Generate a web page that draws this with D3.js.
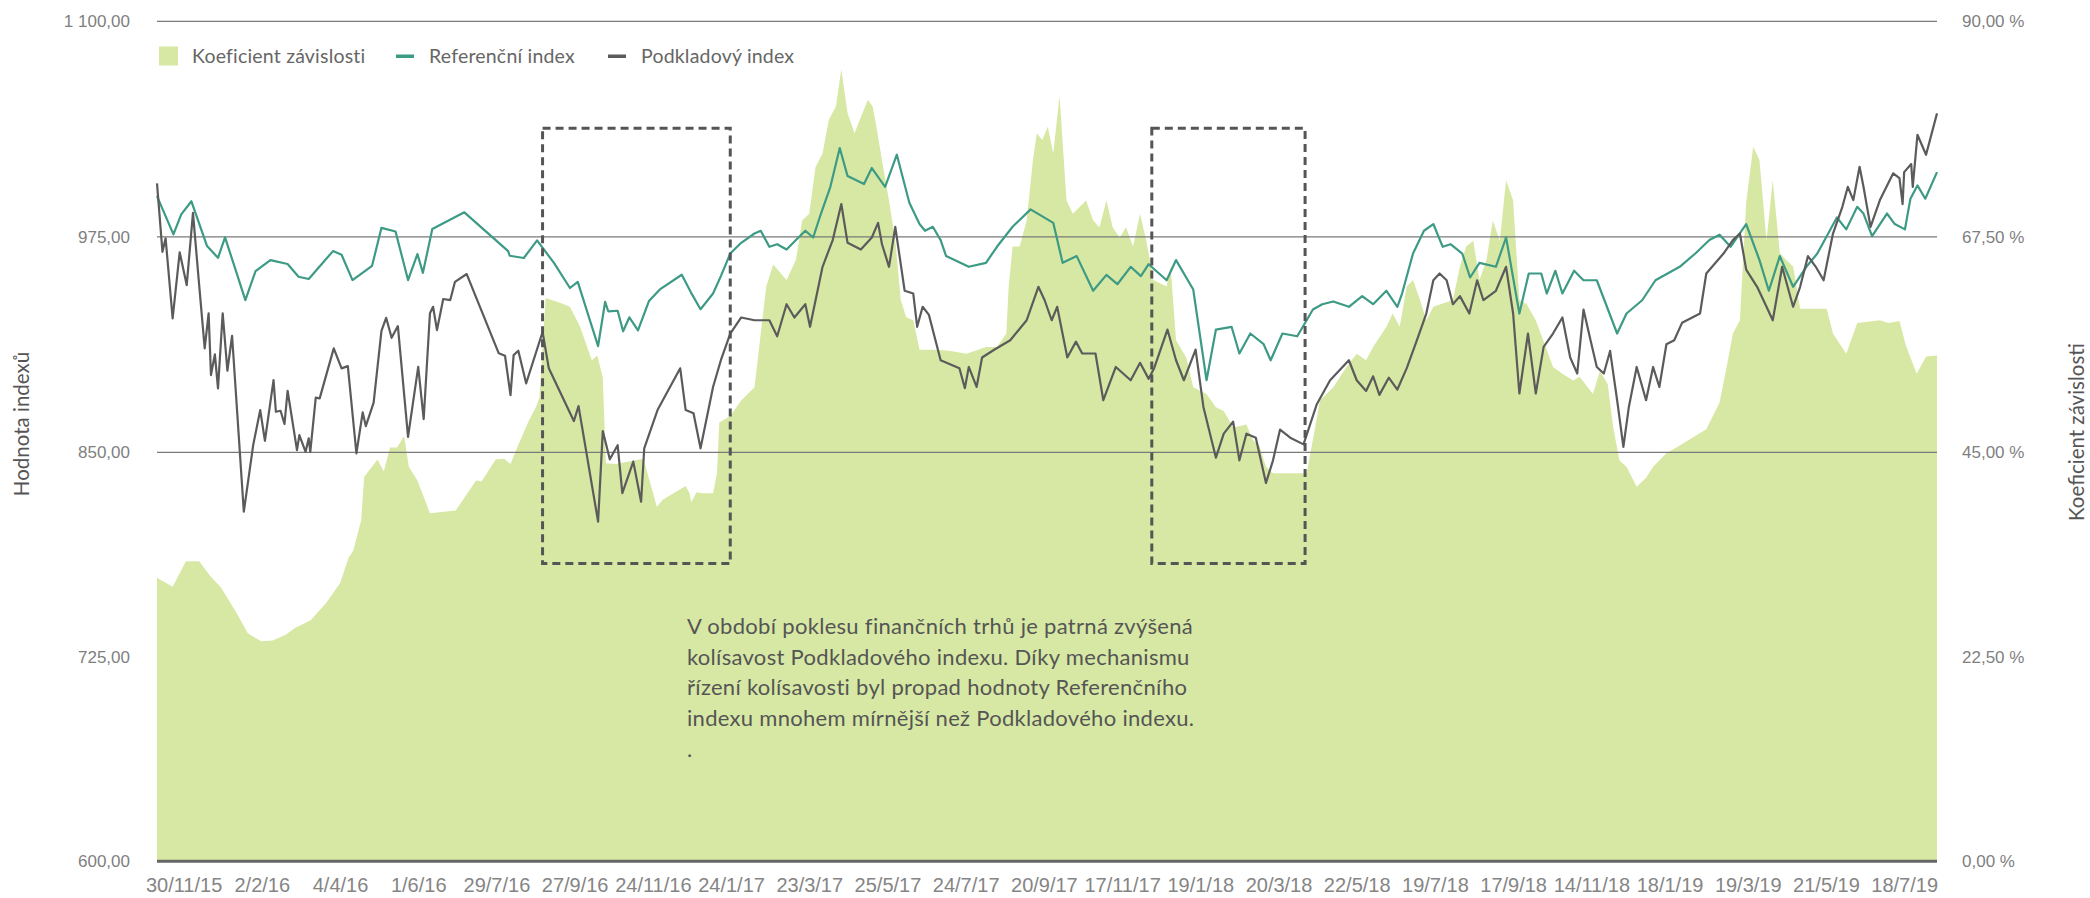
<!DOCTYPE html>
<html lang="cs">
<head>
<meta charset="utf-8">
<script src="https://cdn.jsdelivr.net/npm/d3@7"></script>
<style>
  html, body { margin: 0; padding: 0; background: #fff; }
  svg { display: block; font-family: "Lato", "Open Sans", sans-serif; }
  .axis text { fill: #7f7f7f; font-size: 17px; }
  .axis.x-axis text { font-size: 20px; fill: #858585; }
  .axis .domain { display: none; }
</style>
</head>
<body>
<svg id="chart" width="2090" height="898"></svg>
<script>
// x positions are measured in label slots: 0 = 30/11/15, 1 = 2/2/16, ... 22 = 18/7/19
const dateLabels = ["30/11/15", "2/2/16", "4/4/16", "1/6/16", "29/7/16", "27/9/16", "24/11/16",
  "24/1/17", "23/3/17", "25/5/17", "24/7/17", "20/9/17", "17/11/17", "19/1/18", "20/3/18",
  "22/5/18", "19/7/18", "17/9/18", "14/11/18", "18/1/19", "19/3/19", "21/5/19", "18/7/19"];

const indexTicks = [600, 725, 850, 975, 1100];
const coefTicks = [0, 22.5, 45, 67.5, 90];
const indexGrid = [850, 975, 1100];

// Koeficient závislosti (%)
const coefficient = [
  [-0.34,31.2],[-0.14,30.2],[0.03,33.0],[0.2,33.0],[0.34,31.4],[0.48,30.1],[0.68,27.3],[0.82,25.1],
  [0.99,24.2],[1.14,24.3],[1.3,24.9],[1.43,25.7],[1.62,26.5],[1.82,28.4],[2.0,30.6],[2.11,33.4],
  [2.17,34.2],[2.27,37.5],[2.31,42.3],[2.48,44.2],[2.56,42.9],[2.64,45.5],[2.73,45.5],[2.82,46.7],
  [2.88,43.4],[2.99,41.9],[3.15,38.3],[3.48,38.6],[3.74,41.9],[3.81,41.8],[3.99,44.2],[4.1,44.3],
  [4.18,43.7],[4.28,45.8],[4.42,48.4],[4.51,49.8],[4.55,50.7],[4.63,61.1],[4.82,60.6],[4.94,60.2],
  [5.07,58.1],[5.22,54.6],[5.29,55.1],[5.36,52.8],[5.4,43.8],[5.53,43.7],[5.64,43.9],[5.88,44.3],
  [6.02,40.0],[6.05,39.0],[6.13,39.8],[6.42,41.3],[6.47,40.5],[6.49,39.5],[6.56,40.6],[6.63,40.5],
  [6.77,40.5],[6.82,42.7],[6.85,48.1],[6.99,48.8],[7.13,50.4],[7.3,51.8],[7.37,56.7],[7.45,62.3],
  [7.54,64.6],[7.71,63.0],[7.83,65.1],[7.91,69.2],[8.0,69.9],[8.08,74.8],[8.17,76.2],[8.25,79.7],
  [8.34,81.1],[8.41,85.0],[8.49,80.4],[8.58,78.3],[8.66,80.0],[8.75,81.8],[8.81,81.1],[8.85,79.4],
  [8.93,75.5],[9.02,71.3],[9.1,67.1],[9.17,60.9],[9.24,59.1],[9.33,58.8],[9.41,55.7],[9.58,55.7],
  [9.79,55.6],[10.01,55.3],[10.26,56.0],[10.4,56.0],[10.52,57.4],[10.55,62.3],[10.6,66.5],[10.69,66.5],
  [10.78,69.2],[10.86,75.5],[10.91,78.3],[10.98,77.6],[11.05,79.0],[11.12,76.2],[11.2,82.2],[11.29,71.3],
  [11.37,69.9],[11.54,71.3],[11.63,69.2],[11.71,68.5],[11.8,71.3],[11.88,68.5],[11.97,67.4],[12.05,68.5],
  [12.14,66.5],[12.23,69.9],[12.31,67.1],[12.4,63.0],[12.57,62.3],[12.62,64.4],[12.69,56.7],[12.82,54.9],
  [12.91,51.8],[13.08,51.1],[13.2,49.7],[13.3,49.3],[13.42,47.6],[13.59,47.9],[13.67,46.3],[13.76,45.6],
  [13.84,43.4],[13.93,42.7],[14.36,42.7],[14.44,46.3],[14.53,50.4],[14.7,51.8],[14.87,53.9],[15.0,55.3],
  [15.12,54.6],[15.21,56.0],[15.38,58.1],[15.46,59.5],[15.55,58.1],[15.64,62.3],[15.72,63.0],[15.81,60.9],
  [15.89,58.8],[15.98,60.2],[16.23,60.9],[16.32,64.4],[16.4,66.5],[16.49,67.1],[16.57,63.0],[16.66,65.1],
  [16.74,69.2],[16.83,67.1],[16.91,73.4],[17.0,71.3],[17.08,60.9],[17.17,60.5],[17.29,58.8],[17.43,55.7],
  [17.51,53.9],[17.63,53.2],[17.77,52.5],[17.85,52.9],[18.02,51.1],[18.11,53.5],[18.21,52.1],[18.28,47.6],
  [18.36,44.1],[18.45,43.4],[18.58,41.2],[18.7,42.2],[18.79,43.4],[18.96,44.9],[19.13,45.7],[19.47,47.4],
  [19.64,50.2],[19.73,53.9],[19.81,57.4],[19.9,58.8],[19.98,71.1],[20.07,76.9],[20.15,75.5],[20.24,67.1],
  [20.32,73.4],[20.41,65.8],[20.49,65.1],[20.58,64.4],[20.67,60.0],[21.01,60.0],[21.09,57.4],[21.26,55.3],
  [21.4,58.5],[21.69,58.8],[21.8,58.5],[21.94,58.7],[22.02,56.2],[22.16,53.2],[22.28,55.0],[22.42,55.1]
];

// Referenční index
const referenceIndex = [
  [-0.34,998.6],[-0.13,976.4],[-0.03,988],[0.1,995.6],[0.3,969.6],[0.44,962.8],[0.53,974.7],[0.79,938.3],
  [0.92,955.1],[1.11,961.5],[1.33,959.2],[1.47,951.8],[1.6,950.5],[1.91,966.7],[2.02,964.6],[2.16,949.9],
  [2.41,958.2],[2.53,980.2],[2.71,978.1],[2.87,949.9],[2.99,965],[3.06,954.1],[3.18,979.5],[3.59,989.2],
  [4.15,966.7],[4.17,964],[4.35,962.7],[4.52,972.9],[4.74,959.6],[4.94,945.3],[5.04,948.9],[5.3,911.6],
  [5.39,937.3],[5.43,931.8],[5.55,932.1],[5.62,920.2],[5.7,928.3],[5.81,920.7],[5.95,937.7],[6.09,944.5],
  [6.37,953],[6.49,942.5],[6.61,933],[6.77,942.1],[6.87,952.2],[6.99,965.3],[7.13,971.5],[7.3,976.9],
  [7.38,978.5],[7.49,969.2],[7.59,970.7],[7.71,967.6],[7.83,973.1],[7.95,978.5],[8.05,974.6],[8.15,988.5],
  [8.27,1004],[8.39,1026.5],[8.49,1010.2],[8.7,1005.6],[8.8,1014.9],[8.97,1004],[9.12,1022.6],[9.28,994.7],
  [9.41,982.4],[9.48,978.5],[9.58,980.8],[9.68,973.1],[9.75,963.8],[10.04,957.6],[10.26,959.9],[10.4,969.2],
  [10.6,980.8],[10.83,990.9],[11.12,983.1],[11.24,959.9],[11.42,963.8],[11.63,943.7],[11.8,952.9],[11.94,947.5],
  [12.11,957.6],[12.24,952.2],[12.34,959.1],[12.57,949.8],[12.69,961.5],[12.91,944.4],[13.08,891.8],[13.2,921.2],
  [13.4,922.8],[13.5,907.3],[13.64,918.9],[13.81,912.7],[13.9,903.4],[14.05,918.9],[14.24,917.3],[14.44,932.8],
  [14.56,935.9],[14.7,937.5],[14.9,934.4],[15.07,940.6],[15.21,935.9],[15.38,943.7],[15.52,934.4],[15.58,942.1],
  [15.72,965.3],[15.86,978.5],[15.98,982.4],[16.1,969.2],[16.2,970.7],[16.35,965.3],[16.45,951.4],[16.57,959.9],
  [16.78,957.6],[16.91,974.6],[17.08,930.5],[17.2,953.7],[17.36,953.7],[17.43,942.1],[17.54,955.3],[17.63,942.1],
  [17.78,955.3],[17.9,949.8],[18.07,949.8],[18.33,918.9],[18.45,930.5],[18.65,938.2],[18.82,949.8],[19.13,957.6],
  [19.33,965.3],[19.51,973.1],[19.64,976.2],[19.78,969.2],[19.98,982.4],[20.15,961.5],[20.27,943.7],[20.41,963.8],
  [20.58,946],[20.75,957.6],[20.89,965.3],[21.14,986.2],[21.26,979.3],[21.4,992.4],[21.48,988.5],[21.59,975.4],
  [21.78,988.5],[21.88,982.4],[22.01,979.3],[22.08,997.1],[22.17,1004.8],[22.27,997.1],[22.42,1012.5]
];

// Podkladový index
const underlyingIndex = [
  [-0.34,1006],[-0.27,966.3],[-0.23,974.1],[-0.14,927.7],[-0.05,966],[0.04,947],[0.12,988.9],[0.19,951.8],
  [0.27,910.3],[0.32,930.6],[0.35,894.8],[0.4,906.8],[0.44,887.1],[0.5,930.6],[0.56,897.3],[0.62,917.6],
  [0.77,813.7],[0.89,854.2],[0.98,874.5],[1.04,856.7],[1.15,891.9],[1.18,873.5],[1.24,874.1],[1.29,866.4],
  [1.33,885.7],[1.45,851.3],[1.48,860],[1.56,850.3],[1.6,858.1],[1.62,850.3],[1.69,881.7],[1.74,881.3],
  [1.92,910.3],[2.02,898.7],[2.1,900],[2.21,849.4],[2.29,873.2],[2.33,865.2],[2.43,878.8],[2.53,920.5],
  [2.59,928],[2.66,916.4],[2.74,923.2],[2.87,859],[3.0,899.6],[3.07,869.3],[3.15,930.6],[3.19,934.4],
  [3.24,920.9],[3.32,938.9],[3.41,938.3],[3.47,948.9],[3.62,953.4],[4.03,907.4],[4.11,906],[4.18,883.2],
  [4.22,906.4],[4.28,908.9],[4.38,890],[4.59,919.8],[4.67,898.7],[4.99,868.1],[5.05,876.8],[5.3,807.6],
  [5.36,862.3],[5.45,845.7],[5.55,854.1],[5.61,825],[5.75,844.3],[5.85,819.8],[5.89,852.3],[6.06,874.5],
  [6.35,898.7],[6.42,874.5],[6.52,872.6],[6.61,852.3],[6.77,887.9],[6.87,903.4],[6.99,918.9],[7.13,928.2],
  [7.3,926.6],[7.49,926.6],[7.59,917.3],[7.71,935.9],[7.81,928.2],[7.95,935.9],[8.01,922.8],[8.17,957.6],
  [8.3,973.1],[8.41,994],[8.49,971.5],[8.66,967.6],[8.8,974.6],[8.88,983.1],[8.93,970.7],[9.02,957.6],
  [9.1,980.8],[9.22,943.7],[9.33,942.1],[9.38,922.8],[9.45,934.4],[9.53,929.7],[9.68,903.4],[9.92,898.8],
  [9.99,887.2],[10.04,899.5],[10.14,887.9],[10.21,905],[10.37,909.6],[10.57,915],[10.78,926.6],[10.84,934.4],
  [10.93,946],[11.01,938.2],[11.1,926.6],[11.17,934.4],[11.3,905],[11.41,914.2],[11.49,907.3],[11.66,907.3],
  [11.76,880.2],[11.92,899.5],[12.11,891.8],[12.23,901.9],[12.34,892.6],[12.41,898.8],[12.58,921.2],[12.69,903.4],
  [12.79,891.8],[12.94,909.6],[13.04,876.3],[13.2,846.7],[13.3,860.8],[13.42,867.8],[13.5,845.1],[13.59,860.8],
  [13.71,858.5],[13.84,831.3],[13.93,845.1],[14.02,863.2],[14.15,858.5],[14.32,854.6],[14.49,877.9],[14.66,891.8],
  [14.9,903.4],[15.0,891.8],[15.12,885.6],[15.21,894.1],[15.29,883.3],[15.41,893.3],[15.52,886.4],[15.64,898.8],
  [15.77,915],[15.89,930.5],[15.98,949.8],[16.06,953.7],[16.15,949.8],[16.23,935.9],[16.32,940.6],[16.44,930.5],
  [16.54,949.8],[16.62,938.2],[16.78,943.7],[16.91,957.6],[17.0,930.5],[17.08,884.1],[17.19,918.9],[17.29,884.1],
  [17.39,911.1],[17.51,918.9],[17.63,928.2],[17.73,905],[17.82,895.7],[17.9,932.8],[17.99,915],[18.07,899.5],
  [18.16,895.7],[18.24,908.8],[18.33,880.2],[18.41,853.1],[18.48,876.3],[18.58,899.5],[18.7,880.2],[18.79,899.5],
  [18.87,887.9],[18.96,912.7],[19.06,915],[19.16,925.1],[19.39,930.5],[19.47,953.7],[19.69,965.3],[19.81,973.1],
  [19.9,976.9],[19.98,956],[20.12,946],[20.24,934.4],[20.32,926.6],[20.44,957.6],[20.58,934.4],[20.67,946],
  [20.77,963.8],[20.87,957.6],[20.97,949.8],[21.09,976.9],[21.21,992.4],[21.28,1004],[21.35,996.3],[21.43,1015.6],
  [21.48,1004],[21.57,980.8],[21.69,996.3],[21.86,1011.8],[21.94,1009],[21.98,994],[22.0,1012.5],[22.09,1017.2],
  [22.11,1004],[22.17,1034.2],[22.28,1022.6],[22.42,1046.6]
];

// highlighted periods of market decline: [from slot, to slot], index range [low, high]
const declineWindows = [[4.59, 6.99], [12.38, 14.34]];
const declineRange = [782, 1038];

const noteLines = [
  "V období poklesu finančních trhů je patrná zvýšená",
  "kolísavost Podkladového indexu. Díky mechanismu",
  "řízení kolísavosti byl propad hodnoty Referenčního",
  "indexu mnohem mírnější než Podkladového indexu.",
  "."
];

const legendItems = [
  { label: "Koeficient závislosti", kind: "area", color: "#d7e8a4" },
  { label: "Referenční index", kind: "line", color: "#3d9a85" },
  { label: "Podkladový index", kind: "line", color: "#5b5b5b" }
];

const plot = { left: 157, right: 1937, top: 21.3, mid: 452.3, bottom: 861.3 };

const cz = d3.formatLocale({ decimal: ",", thousands: " ", grouping: [3], currency: ["", " Kč"] });
const fmtIndex = cz.format(",.2f");
const fmtPct = v => cz.format(".2f")(v) + " %";

const svg = d3.select("#chart");

const x = d3.scaleLinear().domain([-0.34, 22.42]).range([plot.left, plot.right]);
const yIndex = d3.scaleLinear().domain([600, 850, 1100]).range([plot.bottom, plot.mid, plot.top]);
const yCoef = d3.scaleLinear().domain([0, 45, 90]).range([plot.bottom, plot.mid, plot.top]);

// area
svg.append("path")
  .datum(coefficient)
  .attr("fill", "#d7e8a4")
  .attr("d", d3.area().x(d => x(d[0])).y0(yCoef(0)).y1(d => yCoef(d[1])));

// gridlines
svg.append("g").selectAll("line")
  .data(indexGrid)
  .join("line")
  .attr("x1", plot.left).attr("x2", plot.right)
  .attr("y1", d => yIndex(d)).attr("y2", d => yIndex(d))
  .attr("stroke", "#7a7a7a")
  .attr("stroke-width", 1.2);

svg.append("line")
  .attr("x1", plot.left).attr("x2", plot.right)
  .attr("y1", yIndex(600)).attr("y2", yIndex(600))
  .attr("stroke", "#666")
  .attr("stroke-width", 3);

// lines
const line = d3.line().x(d => x(d[0])).y(d => yIndex(d[1]));

svg.append("path")
  .datum(referenceIndex)
  .attr("fill", "none")
  .attr("stroke", "#3d9a85")
  .attr("stroke-width", 2.2)
  .attr("stroke-linejoin", "round")
  .attr("d", line);

svg.append("path")
  .datum(underlyingIndex)
  .attr("fill", "none")
  .attr("stroke", "#5b5b5b")
  .attr("stroke-width", 2.2)
  .attr("stroke-linejoin", "round")
  .attr("d", line);

// dashed boxes
svg.append("g").selectAll("rect")
  .data(declineWindows)
  .join("rect")
  .attr("x", d => x(d[0]))
  .attr("width", d => x(d[1]) - x(d[0]))
  .attr("y", yIndex(declineRange[1]))
  .attr("height", yIndex(declineRange[0]) - yIndex(declineRange[1]))
  .attr("fill", "none")
  .attr("stroke", "#555")
  .attr("stroke-width", 3)
  .attr("stroke-dasharray", "8,5");

// axes
svg.append("g")
  .attr("class", "axis")
  .attr("transform", `translate(${plot.left},0)`)
  .call(d3.axisLeft(yIndex).tickValues(indexTicks).tickFormat(fmtIndex).tickSize(0).tickPadding(27));

svg.append("g")
  .attr("class", "axis")
  .attr("transform", `translate(${plot.right},0)`)
  .call(d3.axisRight(yCoef).tickValues(coefTicks).tickFormat(fmtPct).tickSize(0).tickPadding(25));

svg.append("g")
  .attr("class", "axis x-axis")
  .attr("transform", `translate(0,${plot.bottom})`)
  .call(d3.axisBottom(x).tickValues(d3.range(dateLabels.length)).tickFormat(i => dateLabels[i]).tickSize(0).tickPadding(17));

// axis titles
svg.append("text")
  .attr("transform", "translate(21,424) rotate(-90)")
  .attr("text-anchor", "middle")
  .attr("dominant-baseline", "central")
  .attr("fill", "#555")
  .attr("font-size", 20.5)
  .text("Hodnota indexů");

svg.append("text")
  .attr("transform", "translate(2076,432) rotate(-90)")
  .attr("text-anchor", "middle")
  .attr("dominant-baseline", "central")
  .attr("fill", "#555")
  .attr("font-size", 20.5)
  .text("Koeficient závislosti");

// legend
const legendX = [159, 396, 608];
const legend = svg.append("g").selectAll("g")
  .data(legendItems)
  .join("g")
  .attr("transform", (d, i) => `translate(${legendX[i]},56)`);

legend.filter(d => d.kind === "area").append("rect")
  .attr("x", 0).attr("y", -9.5).attr("width", 19).attr("height", 19)
  .attr("fill", d => d.color);
legend.filter(d => d.kind === "line").append("rect")
  .attr("x", 0).attr("y", -1.5).attr("width", 18).attr("height", 3.5)
  .attr("fill", d => d.color);
legend.append("text")
  .attr("x", 33)
  .attr("dy", "0.35em")
  .attr("fill", "#666")
  .attr("font-size", 19.5)
  .attr("letter-spacing", 0.2)
  .text(d => d.label);

// annotation
svg.append("text")
  .attr("fill", "#555")
  .attr("font-size", 22)
  .attr("letter-spacing", 0.3)
  .selectAll("tspan")
  .data(noteLines)
  .join("tspan")
  .attr("x", 687)
  .attr("y", (d, i) => 634 + i * 30.7)
  .text(d => d);
</script>
</body>
</html>
